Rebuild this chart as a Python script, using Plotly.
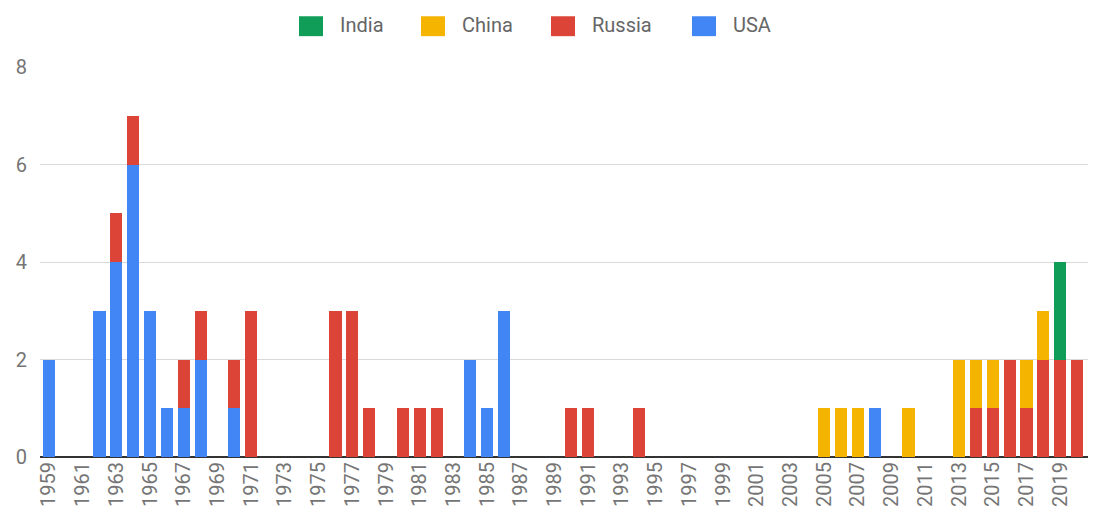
import plotly.graph_objects as go

years = list(range(1959, 2021))

usa = {1959: 2, 1962: 3, 1963: 4, 1964: 6, 1965: 3, 1966: 1, 1967: 1, 1968: 2,
       1970: 1, 1984: 2, 1985: 1, 1986: 3, 2008: 1}
russia = {1963: 1, 1964: 1, 1967: 1, 1968: 1, 1970: 1, 1971: 3, 1976: 3, 1977: 3,
          1978: 1, 1980: 1, 1981: 1, 1982: 1, 1990: 1, 1991: 1, 1994: 1,
          2014: 1, 2015: 1, 2016: 2, 2017: 1, 2018: 2, 2019: 2, 2020: 2}
china = {2005: 1, 2006: 1, 2007: 1, 2010: 1, 2013: 2, 2014: 1, 2015: 1, 2017: 1, 2018: 1}
india = {2019: 2}

series = [
    ("USA", usa, "#4285F4"),
    ("Russia", russia, "#DB4437"),
    ("China", china, "#F4B400"),
    ("India", india, "#0F9D58"),
]

W, H = 1093, 512
ML, MR, MT, MB = 40, 5, 67, 53
PW, PH = W - ML - MR, H - MT - MB


def px_x(px):
    return (px - ML) / PW


def px_y(py):
    return (H - MB - py) / PH


fig = go.Figure()
for name, d, color in series:
    fig.add_trace(go.Bar(
        x=years,
        y=[d.get(y, 0) for y in years],
        name=name,
        marker=dict(color=color, line=dict(width=0)),
        showlegend=False,
    ))

# Custom legend (order: India, China, Russia, USA)
legend_pos = {"India": 299, "China": 421, "Russia": 551, "USA": 692}
shapes = []
annotations = []
for name, d, color in reversed(series):
    x0 = legend_pos[name]
    shapes.append(dict(
        type="rect", xref="paper", yref="paper",
        x0=px_x(x0), x1=px_x(x0 + 24), y0=px_y(36), y1=px_y(16),
        fillcolor=color, line=dict(width=0), layer="above",
    ))
    annotations.append(dict(
        xref="paper", yref="paper", x=px_x(x0 + 39), y=px_y(25),
        text=name, showarrow=False, xanchor="left", yanchor="middle",
        font=dict(size=20, color="#666666", family="Roboto"),
    ))

fig.update_layout(
    barmode="stack",
    bargap=0.28,
    width=W, height=H,
    margin=dict(l=ML, r=MR, t=MT, b=MB),
    paper_bgcolor="white",
    plot_bgcolor="white",
    font=dict(family="Roboto", color="#757575", size=16),
    showlegend=False,
    shapes=shapes,
    annotations=annotations,
    xaxis=dict(
        range=[1958.47, 2020.65],
        tickmode="linear", tick0=1959, dtick=2,
        tickangle=-90,
        showgrid=False,
        zeroline=False,
        showline=False,
        ticks="",
        tickfont=dict(size=20, color="#757575"),
    ),
    yaxis=dict(
        range=[0, 8],
        tickmode="linear", tick0=0, dtick=2,
        showgrid=True, gridcolor="#d9d9d9", gridwidth=1,
        zeroline=True, zerolinecolor="#333333", zerolinewidth=2,
        showline=False,
        ticks="",
        tickfont=dict(size=20, color="#757575"),
        ticklabelstandoff=12,
    ),
)

fig.write_html("out.html")
